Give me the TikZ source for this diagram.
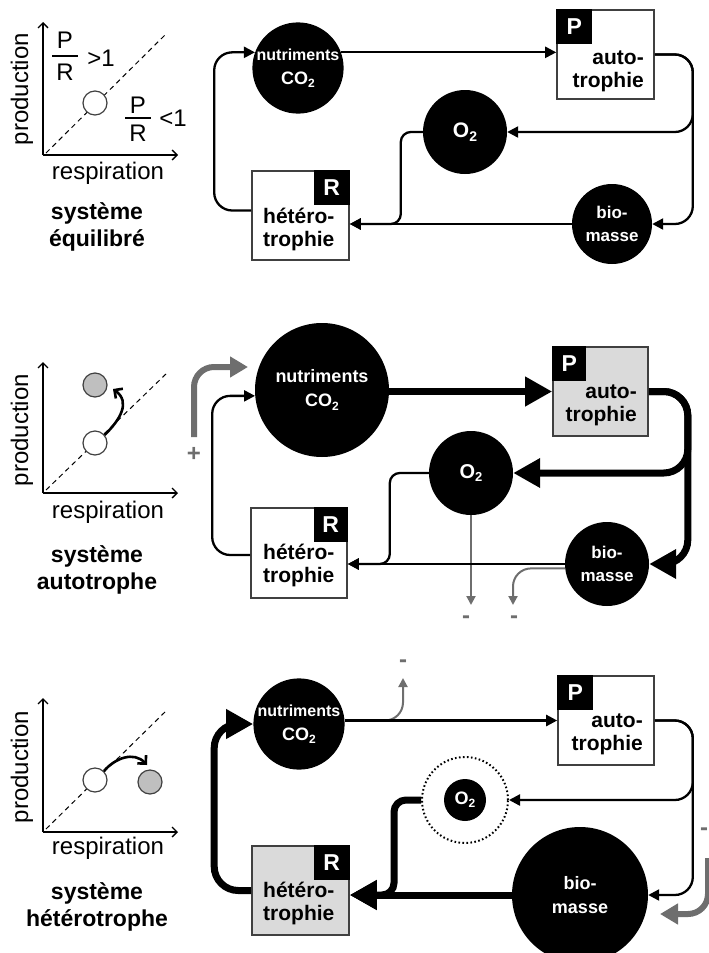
\documentclass[tikz,border=0pt]{standalone}
\usepackage{fontspec}
\setmainfont{Liberation Sans}
\usetikzlibrary{arrows.meta,calc}
\definecolor{boxgray}{HTML}{404040}
\definecolor{fillgray}{HTML}{DADADA}
\definecolor{arrgray}{HTML}{6E6E6E}
\definecolor{dotgray}{HTML}{BFBFBF}
\newcommand\lowtwo[1]{\raisebox{-0.35ex}{\fontsize{#1}{#1}\selectfont 2}}
\begin{document}
\begin{tikzpicture}[x=1pt,y=-1pt,
  blob/.style={circle, fill=black, text=white, inner sep=0pt, align=center, font=\bfseries\fontsize{17}{23}\selectfont},
  boxn/.style={draw=boxgray, line width=1.6pt, minimum width=97pt, minimum height=89pt, inner sep=0pt},
  tagn/.style={fill=black, text=white, minimum width=36pt, minimum height=35pt, inner sep=0pt, font=\bfseries\fontsize{23}{23}\selectfont},
  boxtext/.style={inner sep=0pt, font=\bfseries\fontsize{21}{23}\selectfont},
  tconn/.style={line width=2.3pt, -{Triangle[length=11pt,width=11pt]}, rounded corners=18pt},
  kconn/.style={line width=7pt, -{Triangle[length=27pt,width=28pt]}, rounded corners=24pt},
  gthin/.style={draw=arrgray, line width=2pt, -{Triangle[length=9pt,width=9pt]}, rounded corners=18pt},
  gthick/.style={draw=arrgray, line width=6pt, -{Triangle[length=18pt,width=20pt]}, rounded corners=20pt},
  sign/.style={text=arrgray, font=\bfseries\fontsize{24}{24}\selectfont, inner sep=0pt},
  axis/.style={line width=1.3pt, -{Straight Barb[length=5pt,width=10pt]}},
  diag/.style={line width=1pt, dash pattern=on 5pt off 4pt},
  gdot/.style={circle, draw=boxgray, line width=1.2pt, minimum size=24pt, inner sep=0pt},
  garrow/.style={line width=2.6pt, -{Straight Barb[length=6pt,width=12pt]}},
  gtext/.style={font=\fontsize{24}{28}\selectfont, inner sep=0pt},
  ttl/.style={font=\bfseries\fontsize{23}{27}\selectfont, inner sep=0pt, align=center},
]
\useasboundingbox (0,0) rectangle (709,953);

%%%%%%%%%%%%%%%% PANEL 1 : graph
\coordinate (a1o) at (43,155);
\coordinate (a1y) at (43,22);
\coordinate (a1x) at (178,155);
\coordinate (d1s) at (46,153);
\coordinate (d1e) at (167,33);
\draw[axis] (a1o) -- (a1y);
\draw[axis] (a1o) -- (a1x);
\draw[diag] (d1s) -- (d1e);
\node[gdot, fill=white] (w1) at (95,103) {};
\node[gtext, rotate=90] (prod1) at (22,89) {production};
\node[gtext] (resp1) at (108,173) {respiration};
\node[gtext] (fp1) at (65,40) {P};
\node[gtext] (fr1) at (65,72) {R};
\draw[line width=1.4pt] (52,56) -- (78,56);
\node[gtext] (gt1) at (101,58) {>1};
\node[gtext] (fp1b) at (138,105) {P};
\node[gtext] (fr1b) at (138,133) {R};
\draw[line width=1.4pt] (125,118) -- (151,118);
\node[gtext] (lt1) at (173,118) {<1};
\node[ttl] (t1) at (97,227) {système\\équilibré};

%%%%%%%%%%%%%%%% PANEL 1 : cycle
\node[blob, minimum size=82pt] (n1) at (298,68) {\fontsize{16}{22}\selectfont nutriments\\[1pt]\fontsize{18}{22}\selectfont CO\lowtwo{12}};
\node[boxn] (p1) at (605.5,54.5) {};
\node[tagn, anchor=north west] (p1t) at (p1.north west) {P};
\node[boxtext, anchor=east, align=right] (p1l) at (644,71) {auto-\\trophie};
\node[blob, minimum size=84pt, font=\bfseries\fontsize{21}{21}\selectfont] (o1) at (465,132) {O\lowtwo{14}};
\node[blob, minimum size=80pt] (b1) at (612,224) {bio-\\masse};
\node[boxn] (r1) at (300.5,215.5) {};
\node[tagn, anchor=north east] (r1t) at (r1.north east) {R};
\node[boxtext, anchor=west, align=left] (r1l) at (263,229) {hétéro-\\trophie};

\draw[tconn] (n1.20) -- (n1.20 -| p1.west);
\draw[tconn] (p1.east) -- ++(38,0) |- (o1.east);
\draw[tconn] (p1.east) -- ++(38,0) |- (b1.east);
\draw[tconn] (b1.west) -- (b1.west -| r1.east);
\draw[tconn, rounded corners=10pt] (o1.west) -- ++(-22,0) |- (b1.west -| r1.east);
\draw[tconn] ([yshift=5pt]r1.west) -- ++(-37,0) |- (n1.160);

%%%%%%%%%%%%%%%% PANEL 2 : graph
\coordinate (a2o) at (43,493);
\coordinate (a2y) at (43,362);
\coordinate (a2x) at (178,493);
\coordinate (d2s) at (46,490);
\coordinate (d2e) at (167,373);
\draw[axis] (a2o) -- (a2y);
\draw[axis] (a2o) -- (a2x);
\draw[diag] (d2s) -- (d2e);
\node[gdot, fill=white] (w2) at (95,443) {};
\node[gdot, fill=dotgray] (g2) at (95,385) {};
\coordinate (a2e) at (113,389);
\draw[garrow] (w2.40) .. controls (120,420) and (131,402) .. (a2e);
\node[gtext, rotate=90] (prod2) at (22,430) {production};
\node[gtext] (resp2) at (108,512) {respiration};
\node[ttl] (t2) at (97,570) {système\\autotrophe};

%%%%%%%%%%%%%%%% PANEL 2 : cycle
\node[blob, minimum size=134pt, font=\bfseries\fontsize{18}{24}\selectfont] (n2) at (322,390) {nutriments\\CO\lowtwo{12}};
\node[boxn, fill=fillgray, minimum width=95pt] (p2) at (600.5,391.5) {};
\node[tagn, anchor=north west, minimum width=34pt] (p2t) at (p2.north west) {P};
\node[boxtext, anchor=east, align=right] (p2l) at (637,405.5) {auto-\\trophie};
\node[blob, minimum size=84pt, font=\bfseries\fontsize{20}{20}\selectfont] (o2) at (471,473) {O\lowtwo{13}};
\node[blob, minimum size=84pt] (b2) at (607,564) {bio-\\masse};
\node[boxn, minimum width=96pt, minimum height=90pt] (r2) at (299,553) {};
\node[tagn, anchor=north east, minimum width=34pt] (r2t) at (r2.north east) {R};
\node[boxtext, anchor=west, align=left] (r2l) at (263,565.5) {hétéro-\\trophie};

\coordinate (g2s) at (194,437);
\coordinate (g2e) at (248,367);
\draw[gthick] (g2s) |- (g2e);
\node[sign] (plus2) at (194,454) {+};
\coordinate (m21) at (471,605);
\coordinate (m22) at (513,605);
\draw[gthin] (o2.south) -- (m21);
\draw[gthin] (b2.186) -| (m22);
\node[sign] (mn21) at (466,620) {-};
\node[sign] (mn22) at (514,620) {-};

\draw[kconn] (n2.east |- p2.west) -- (p2.west);
\draw[kconn] (p2.east) -- ++(39,0) |- (o2.east);
\draw[kconn] (p2.east) -- ++(39,0) |- (b2.east);
\draw[tconn] (b2.west) -- (b2.west -| r2.east);
\draw[tconn, rounded corners=10pt] (o2.west) -- ++(-39,0) |- (b2.west -| r2.east);
\draw[tconn] ([yshift=-2pt]r2.west) -- ++(-38,0) |- (n2.185);

%%%%%%%%%%%%%%%% PANEL 3 : graph
\coordinate (a3o) at (43,832);
\coordinate (a3y) at (43,698);
\coordinate (a3x) at (178,832);
\coordinate (d3s) at (46,829);
\coordinate (d3e) at (167,710);
\draw[axis] (a3o) -- (a3y);
\draw[axis] (a3o) -- (a3x);
\draw[diag] (d3s) -- (d3e);
\node[gdot, fill=white] (w3) at (95,780) {};
\node[gdot, fill=dotgray] (g3) at (150,782) {};
\coordinate (a3e) at (147,765);
\draw[garrow] (w3.45) .. controls (115,758) and (134,751) .. (a3e);
\node[gtext, rotate=90] (prod3) at (22,767) {production};
\node[gtext] (resp3) at (108,848) {respiration};
\node[ttl] (t3) at (97,907) {système\\hétérotrophe};

%%%%%%%%%%%%%%%% PANEL 3 : cycle
\node[blob, minimum size=84pt] (n3) at (299,724) {\fontsize{16}{22}\selectfont nutriments\\[1pt]\fontsize{18}{22}\selectfont CO\lowtwo{12}};
\node[boxn, minimum width=96pt] (p3) at (606,720.5) {};
\node[tagn, anchor=north west] (p3t) at (p3.north west) {P};
\node[boxtext, anchor=east, align=right] (p3l) at (643,734.5) {auto-\\trophie};
\node[circle, draw=black, line width=2pt, dash pattern=on 1.6pt off 2.4pt, minimum size=86pt, inner sep=0pt] (o3) at (465,800) {};
\node[blob, minimum size=42pt, font=\bfseries\fontsize{18}{18}\selectfont] (o3i) at (465,800) {O\lowtwo{12}};
\node[blob, minimum size=136pt, font=\bfseries\fontsize{18}{24}\selectfont] (b3) at (580,895) {bio-\\masse};
\node[boxn, fill=fillgray] (r3) at (300.5,890.5) {};
\node[tagn, anchor=north east] (r3t) at (r3.north east) {R};
\node[boxtext, anchor=west, align=left] (r3l) at (263,903.5) {hétéro-\\trophie};

\coordinate (m31) at (403,678);
\draw[gthin] (n3.east |- p3.west) -| (m31);
\node[sign] (mn31) at (403,664) {-};
\coordinate (g3s) at (708,858);
\coordinate (g3e) at (660,914);
\draw[gthick] (g3s) |- (g3e);
\node[sign] (mn32) at (704,832) {-};

\draw[tconn] (n3.east |- p3.west) -- (p3.west);
\draw[tconn] (p3.east) -- ++(38,0) |- (o3.east);
\draw[tconn] (p3.east) -- ++(38,0) |- (b3.east);
\draw[kconn] (b3.west) -- (b3.west -| r3.east);
\draw[kconn, rounded corners=12pt] (o3.west) -- ++(-27,0) |- (b3.west -| r3.east);
\draw[kconn] (r3.west) -- ++(-37,0) |- (n3.west);
\end{tikzpicture}
\end{document}
